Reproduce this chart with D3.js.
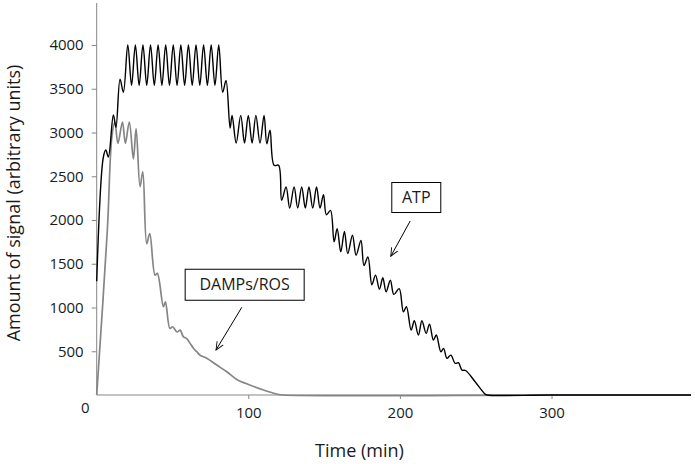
<!DOCTYPE html>
<html>
<head>
<meta charset="utf-8">
<script src="https://cdn.jsdelivr.net/npm/d3@7"></script>
<style>
  html, body { margin: 0; padding: 0; background: #fff; }
  svg { display: block; font-family: "Open Sans", "Liberation Sans", sans-serif; }
</style>
</head>
<body>
<div id="chart"></div>
<script>
// ---- Data ----
const atpTimes = [0, 4.4, 6, 7.7, 11, 12.7, 15.4, 17.6, 20.5,
  23, 25.5, 28, 30.5, 33, 35.5, 38, 40.5, 43, 45.5, 48, 50.5, 53, 55.5, 58, 60.5, 63, 65.5, 68, 70.5, 73, 75.5, 78, 80.5,
  83.1, 85.3, 88, 89.3, 92, 95, 97.5, 100, 102.5, 105, 107.7, 110.4, 112.2, 114.3, 117, 120, 122,
  124.9, 127.3, 130.2, 132.6, 135.2, 137.6, 140, 142.5, 145, 147.3, 149.6, 151.5, 154.2,
  156.6, 158.6, 161, 163.4, 165.6, 168.7, 171.1, 174.3, 176.3, 178.9, 181.5, 183.9, 186.5, 188.7, 190.9, 193.7, 196, 199.5,
  202.3, 204.3, 207.4, 209.5, 212.2, 214.5, 217.3, 219.5, 222.1, 224, 227, 228.8, 231, 233.6, 236.4, 238.6, 240.9, 243.3,
  249.6, 256.2, 257.5, 300, 392];
const atpValues = [1300, 2720, 2800, 2720, 3200, 3060, 3610, 3460, 4000,
  3540, 4000, 3540, 4000, 3540, 4000, 3540, 4000, 3540, 4000, 3540, 4000, 3540, 4000, 3540, 4000, 3540, 4000, 3540, 4000, 3540, 4000, 3540, 4000,
  3460, 3595, 3050, 3196, 2880, 3196, 2880, 3196, 2880, 3196, 2880, 3196, 2870, 3025, 2625, 2625, 2225,
  2377, 2137, 2377, 2137, 2377, 2137, 2377, 2137, 2377, 2137, 2290, 2060, 2110,
  1750, 1900, 1636, 1870, 1617, 1826, 1598, 1765, 1480, 1578, 1260, 1370, 1210, 1340, 1180, 1312, 1150, 1215,
  951, 1008, 742, 848, 685, 848, 704, 810, 628, 685, 494, 533, 419, 456, 362, 369, 285, 280,
  152, 10, 0, 0, 0];

const dampTimes = [0, 7, 10, 12, 14, 17, 18.9, 21.5, 24.2, 26, 28.6, 30.4, 33, 35, 38.5, 40, 44, 45.3, 48.3, 50,
  53, 55, 57.2, 59.4, 61.6, 63.8, 66, 68.2, 72.6, 79.2, 85.8, 92.4, 101, 110, 118.8, 123, 300, 392];
const dampValues = [0, 1880, 2950, 3120, 2875, 3120, 2875, 3120, 2700, 3045, 2380, 2550, 1730, 1845, 1370, 1390, 1010, 1065, 760, 780,
  720, 742, 665, 645, 590, 535, 495, 455, 420, 342, 266, 178, 114, 57, 11, 0, 0, 0];

const yTicks = [500, 1000, 1500, 2000, 2500, 3000, 3500, 4000];
const xTicks = [0, 100, 200, 300];
const xTitle = "Time (min)";
const yTitle = "Amount of signal (arbitrary units)";
const labels = [
  {text: "ATP", t: 210.8, v: 2257, w: 49, h: 30, from: [206.8, 1989], to: [194, 1586]},
  {text: "DAMPs/ROS", t: 97.6, v: 1260, w: 119, h: 31, from: [95.7, 1002], to: [78.7, 514]}
];

// ---- Chart ----
const W = 695, H = 464;
const svg = d3.select("#chart").append("svg").attr("width", W).attr("height", H);

const x = d3.scaleLinear().domain([0, 392]).range([96.7, 691]);
const y = d3.scaleLinear().domain([0, 4480]).range([395, 3]);
const axisColor = "#868686";
const textColor = "#1a1a1a";

// y axis
const gy = svg.append("g").attr("transform", `translate(${x(0)},0)`)
  .call(d3.axisLeft(y).tickValues(yTicks).tickSize(5).tickPadding(8).tickFormat(d3.format("d")));
gy.select(".domain").attr("stroke", axisColor).attr("d", `M0,${y(4480)}V${y(0)}`);
gy.selectAll(".tick line").attr("stroke", axisColor);
gy.selectAll(".tick text").attr("fill", textColor).style("font-size", "15px")
  .style("font-family", "'Open Sans', sans-serif");

// x axis
const gx = svg.append("g").attr("transform", `translate(0,${y(0)})`)
  .call(d3.axisBottom(x).tickValues(xTicks).tickSize(4).tickPadding(8).tickFormat(d3.format("d")));
gx.select(".domain").attr("stroke", axisColor).attr("d", `M${x(0)},0H${x(392)}`);
gx.selectAll(".tick line").attr("stroke", axisColor);
gx.selectAll(".tick text").attr("fill", textColor).style("font-size", "15px")
  .style("font-family", "'Open Sans', sans-serif");
gx.selectAll(".tick").filter(d => d === 0).select("text").attr("dx", -12).attr("dy", "0.42em");
gx.selectAll(".tick").filter(d => d === 0).select("line").remove();

// titles
svg.append("text").attr("x", 359.5).attr("y", 457).attr("text-anchor", "middle")
  .attr("fill", textColor).style("font-size", "18px").text(xTitle);
svg.append("text").attr("transform", `translate(20,203) rotate(-90)`).attr("text-anchor", "middle")
  .attr("fill", textColor).style("font-size", "18px").text(yTitle);

// lines
const curve = d3.curveCatmullRom.alpha(0.5);
const dampData = dampTimes.map((t, i) => [t, dampValues[i]]);
const atpData = atpTimes.map((t, i) => [t, atpValues[i]]);
const line = d3.line().x(d => x(d[0])).y(d => y(d[1])).curve(curve);

svg.append("path").datum(dampData).attr("d", line)
  .attr("fill", "none").attr("stroke", "#858585").attr("stroke-width", 1.7).attr("stroke-linejoin", "round");
svg.append("path").datum(atpData).attr("d", line)
  .attr("fill", "none").attr("stroke", "#000").attr("stroke-width", 1.4).attr("stroke-linejoin", "round");

// arrow marker
svg.append("defs").append("marker").attr("id", "arrow")
  .attr("viewBox", "0 0 10 10").attr("refX", 9).attr("refY", 5)
  .attr("markerWidth", 9).attr("markerHeight", 9).attr("markerUnits", "userSpaceOnUse")
  .attr("orient", "auto")
  .append("path").attr("d", "M0,1 L9,5 L0,9").attr("fill", "none").attr("stroke", "#000").attr("stroke-width", 1);

// annotations
labels.forEach(l => {
  const cx = x(l.t), cy = y(l.v);
  svg.append("rect").attr("x", cx - l.w / 2).attr("y", cy - l.h / 2).attr("width", l.w).attr("height", l.h)
    .attr("fill", "#fff").attr("stroke", "#000").attr("stroke-width", 1);
  svg.append("text").attr("x", cx).attr("y", cy).attr("dy", "0.35em").attr("text-anchor", "middle")
    .attr("fill", textColor).style("font-size", "16px").text(l.text);
  svg.append("line").attr("x1", x(l.from[0])).attr("y1", y(l.from[1]))
    .attr("x2", x(l.to[0])).attr("y2", y(l.to[1]))
    .attr("stroke", "#000").attr("stroke-width", 1).attr("marker-end", "url(#arrow)");
});
</script>
</body>
</html>
